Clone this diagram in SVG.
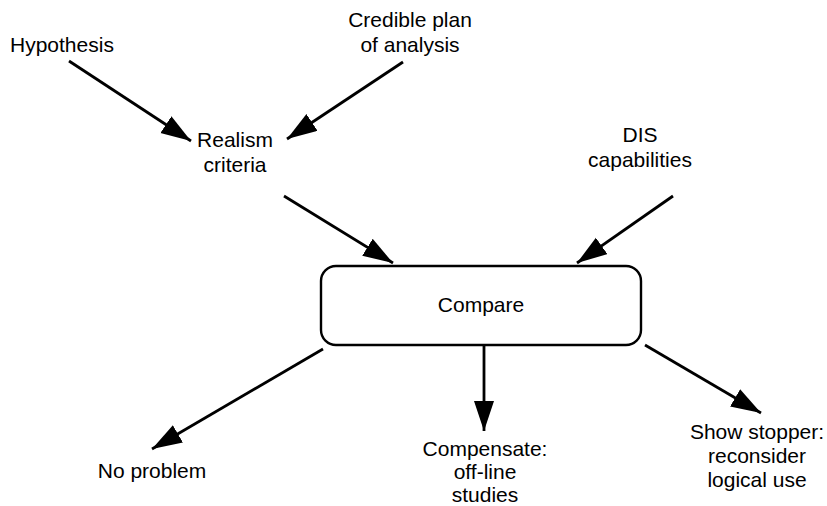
<svg xmlns="http://www.w3.org/2000/svg" width="827" height="506" viewBox="0 0 827 506">
<style>
text{font-family:"Liberation Sans",Arial,sans-serif;font-size:21px;fill:#000}
.c{text-anchor:middle}
.e{stroke:#000;stroke-width:2.8;fill:none;marker-end:url(#ah)}
.box{fill:#fff;stroke:#000;stroke-width:2.4}
</style>
<defs>
<marker id="ah" markerUnits="userSpaceOnUse" markerWidth="34" markerHeight="22" refX="30" refY="10" orient="auto">
<path d="M0,0 L30,10 L0,20 Z" fill="#000"/>
</marker>
</defs>
<rect width="827" height="506" fill="#fff"/>
<g id="connectors">
<line class="e" x1="69" y1="61" x2="191" y2="141"/>
<line class="e" x1="403" y1="62" x2="287" y2="139"/>
<line class="e" x1="284" y1="196" x2="393" y2="263"/>
<line class="e" x1="673" y1="196" x2="577" y2="263"/>
<line class="e" x1="323" y1="349" x2="152" y2="449"/>
<line class="e" x1="484" y1="345" x2="484" y2="431"/>
<line class="e" x1="645" y1="345" x2="761" y2="413"/>
</g>
<g id="hypothesis"><text x="10" y="52">Hypothesis</text></g>
<g id="plan"><text class="c" x="410" y="27">Credible plan</text><text class="c" x="410" y="52">of analysis</text></g>
<g id="realism"><text class="c" x="235" y="147">Realism</text><text class="c" x="235" y="172">criteria</text></g>
<g id="dis"><text class="c" x="640" y="142">DIS</text><text class="c" x="640" y="167">capabilities</text></g>
<g id="compare"><rect class="box" x="321" y="266" width="320" height="79" rx="15"/><text class="c" x="481" y="312">Compare</text></g>
<g id="noproblem"><text class="c" x="152" y="478">No problem</text></g>
<g id="compensate"><text class="c" x="485" y="456">Compensate:</text><text class="c" x="485" y="479">off-line</text><text class="c" x="485" y="502">studies</text></g>
<g id="showstopper"><text class="c" x="757" y="439">Show stopper:</text><text class="c" x="757" y="463">reconsider</text><text class="c" x="757" y="487">logical use</text></g>
</svg>
